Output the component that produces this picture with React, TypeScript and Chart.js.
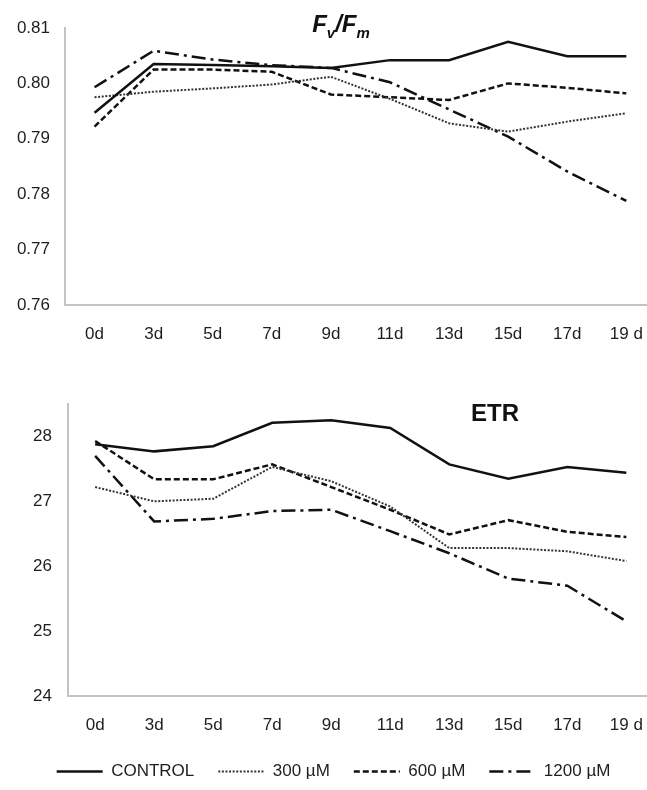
import { useEffect, useRef } from 'react';
import { Chart, registerables } from 'chart.js';
import type { Plugin, ChartOptions, LegendItem } from 'chart.js';

Chart.register(...registerables);

// Sampling days
const days = ['0d', '3d', '5d', '7d', '9d', '11d', '13d', '15d', '17d', '19 d'];
const seriesNames = ['CONTROL', '300 µM', '600 µM', '1200 µM'];

// Maximum quantum yield of PSII (Fv/Fm)
const fvfmControl = [0.7947, 0.8035, 0.8033, 0.8031, 0.8028, 0.8042, 0.8042, 0.8075, 0.8049, 0.8049];
const fvfm300 = [0.7975, 0.7985, 0.7991, 0.7998, 0.8012, 0.7972, 0.7928, 0.7913, 0.7931, 0.7946];
const fvfm600 = [0.7922, 0.8025, 0.8025, 0.8021, 0.7980, 0.7975, 0.7970, 0.8000, 0.7992, 0.7982];
const fvfm1200 = [0.7993, 0.8059, 0.8043, 0.8033, 0.8028, 0.8002, 0.7953, 0.7904, 0.7841, 0.7788];

// Electron transport rate (ETR)
const etrControl = [27.88, 27.77, 27.85, 28.21, 28.25, 28.13, 27.57, 27.35, 27.53, 27.44];
const etr300 = [27.22, 27.0, 27.04, 27.53, 27.31, 26.92, 26.28, 26.28, 26.23, 26.08];
const etr600 = [27.93, 27.34, 27.34, 27.57, 27.22, 26.87, 26.49, 26.71, 26.53, 26.45];
const etr1200 = [27.7, 26.69, 26.73, 26.85, 26.87, 26.54, 26.2, 25.81, 25.7, 25.15];

const FONT = '"Liberation Sans", Arial, Helvetica, sans-serif';
const TEXT = '#1e1e1e';
const AXIS = '#c4c4c4';

const lineStyles = [
  { borderColor: '#111', borderWidth: 2.5, borderDash: [] as number[] },
  { borderColor: '#333', borderWidth: 2, borderDash: [2, 1.6] },
  { borderColor: '#111', borderWidth: 2.5, borderDash: [6, 3] },
  { borderColor: '#111', borderWidth: 2.5, borderDash: [14, 5, 3, 5] },
];

function buildDatasets(series: number[][]) {
  return series.map((values, s) => ({
    label: seriesNames[s],
    data: values.map((y, i) => ({ x: i, y })),
    ...lineStyles[s],
    borderCapStyle: 'butt' as const,
    pointRadius: 0,
    pointHoverRadius: 0,
    tension: 0,
    fill: false,
  }));
}

// Legend entries carry each series' own stroke (width and dash pattern)
function legendLabels(chart: Chart): LegendItem[] {
  return chart.data.datasets.map((ds: any, i) => ({
    text: ds.label,
    datasetIndex: i,
    hidden: false,
    fillStyle: ds.borderColor,
    strokeStyle: ds.borderColor,
    fontColor: TEXT,
    lineWidth: ds.borderWidth,
    lineDash: ds.borderDash,
    lineCap: 'butt',
    pointStyle: 'line',
  }));
}

type TitlePart = { text: string; sub?: boolean };

// Panel heading drawn inside the plot, with optional subscripts
function panelTitle(parts: TitlePart[], cx: number, baseline: number, size: number, italic: boolean): Plugin<'line'> {
  return {
    id: 'panelTitle',
    afterDraw(chart) {
      const ctx = chart.ctx;
      const fontFor = (p: TitlePart) =>
        `${italic ? 'italic ' : ''}bold ${p.sub ? Math.round(size * 0.62) : size}px ${FONT}`;
      ctx.save();
      let total = 0;
      for (const p of parts) {
        ctx.font = fontFor(p);
        total += ctx.measureText(p.text).width;
      }
      let x = cx - total / 2;
      ctx.fillStyle = '#111';
      ctx.textAlign = 'left';
      ctx.textBaseline = 'alphabetic';
      for (const p of parts) {
        ctx.font = fontFor(p);
        ctx.fillText(p.text, x, baseline + (p.sub ? size * 0.24 : 0));
        x += ctx.measureText(p.text).width;
      }
      ctx.restore();
    },
  };
}

type PanelOpts = {
  yMin: number;
  yMax: number;
  yDecimals: number;
  yWidth: number;
  yPad: number;
  xMin: number;
  xHeight: number;
  xPad: number;
  padding: { left: number; top: number; right: number; bottom: number };
  legend: boolean;
};

function panelOptions(o: PanelOpts): ChartOptions<'line'> {
  return {
    responsive: false,
    devicePixelRatio: 1,
    animation: false,
    events: [],
    layout: { padding: o.padding },
    scales: {
      x: {
        type: 'linear',
        min: o.xMin,
        max: 9.35,
        afterFit: (scale) => {
          scale.height = o.xHeight;
          scale.paddingLeft = 0;
          scale.paddingRight = 0;
        },
        grid: { display: false, drawTicks: false },
        border: { display: true, color: AXIS, width: 2 },
        ticks: {
          stepSize: 1,
          includeBounds: false,
          autoSkip: false,
          maxRotation: 0,
          padding: o.xPad,
          color: TEXT,
          font: { family: FONT, size: 17 },
          callback: (v) => days[Number(v)] ?? '',
        },
      },
      y: {
        min: o.yMin,
        max: o.yMax,
        afterFit: (scale) => {
          scale.width = o.yWidth;
          scale.paddingTop = 0;
          scale.paddingBottom = 0;
        },
        grid: { display: false, drawTicks: false },
        border: { display: true, color: AXIS, width: 2 },
        ticks: {
          stepSize: o.yDecimals ? 0.01 : 1,
          includeBounds: false,
          padding: o.yPad,
          color: TEXT,
          font: { family: FONT, size: 17 },
          callback: (v) => Number(v).toFixed(o.yDecimals),
        },
      },
    },
    plugins: {
      tooltip: { enabled: false },
      title: { display: false },
      legend: {
        display: o.legend,
        position: 'bottom',
        labels: {
          usePointStyle: true,
          pointStyle: 'line',
          pointStyleWidth: 46,
          padding: 24,
          color: TEXT,
          font: { family: FONT, size: 17 },
          generateLabels: legendLabels,
        },
      },
    },
  };
}

export default function App() {
  const topRef = useRef<HTMLCanvasElement>(null);
  const bottomRef = useRef<HTMLCanvasElement>(null);

  useEffect(() => {
    if (!topRef.current || !bottomRef.current) return;

    const top = new Chart(topRef.current, {
      type: 'line',
      data: { datasets: buildDatasets([fvfmControl, fvfm300, fvfm600, fvfm1200]) },
      options: panelOptions({
        yMin: 0.76,
        yMax: 0.81,
        yDecimals: 2,
        yWidth: 65,
        yPad: 15,
        xMin: -0.5,
        xHeight: 45,
        xPad: 19,
        padding: { left: 0, top: 28, right: 0, bottom: 0 },
        legend: false,
      }),
      plugins: [
        panelTitle([{ text: 'F' }, { text: 'v', sub: true }, { text: '/F' }, { text: 'm', sub: true }], 341, 32, 24, true),
      ],
    });

    const bottom = new Chart(bottomRef.current, {
      type: 'line',
      data: { datasets: buildDatasets([etrControl, etr300, etr600, etr1200]) },
      options: panelOptions({
        yMin: 24,
        yMax: 28.5,
        yDecimals: 0,
        yWidth: 48,
        yPad: 16,
        xMin: -0.46,
        xHeight: 43,
        xPad: 19,
        padding: { left: 20, top: 54, right: 0, bottom: 0 },
        legend: true,
      }),
      plugins: [panelTitle([{ text: 'ETR' }], 495, 71, 24, false)],
    });

    return () => {
      top.destroy();
      bottom.destroy();
    };
  }, []);

  return (
    <div style={{ position: 'absolute', left: 0, top: 0, width: 647, height: 790, background: '#fff' }}>
      <canvas ref={topRef} width={647} height={350} style={{ display: 'block' }} />
      <canvas ref={bottomRef} width={647} height={440} style={{ display: 'block' }} />
    </div>
  );
}
